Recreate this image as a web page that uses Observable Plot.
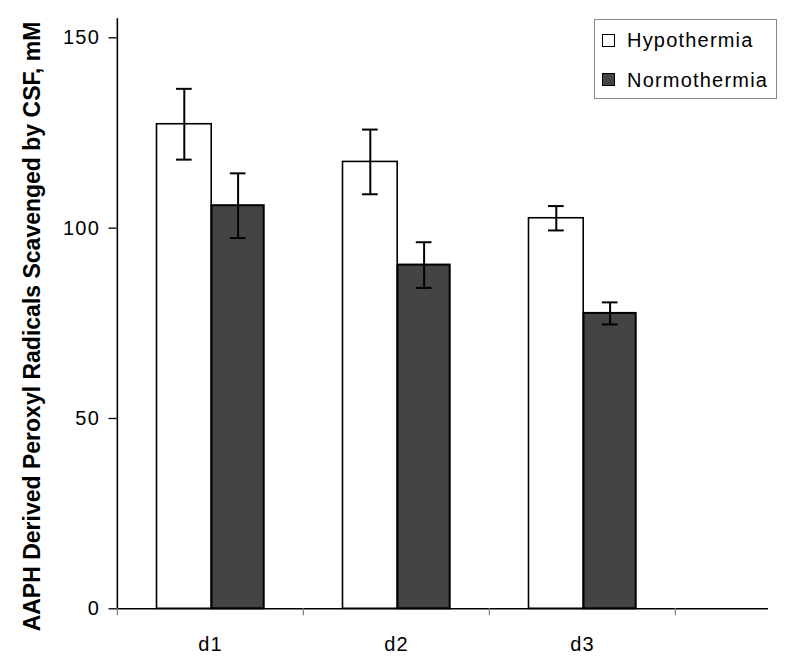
<!DOCTYPE html>
<html>
<head>
<meta charset="utf-8">
<script src="https://cdn.jsdelivr.net/npm/d3@7"></script>
<script src="https://cdn.jsdelivr.net/npm/@observablehq/plot@0.6"></script>
<style>
  html, body { margin: 0; padding: 0; background: #fff; }
  #wrap { position: relative; width: 800px; height: 671px; font-family: "Liberation Sans", Arial, sans-serif; }
  #wrap svg [aria-label$="tick label"] { letter-spacing: 1.2px; }
  .legend { position: absolute; left: 594px; top: 19px; width: 183px; height: 80px; box-sizing: border-box; border: 1px solid #8a8a8a; background: #fff; }
  .legend .sw { position: absolute; left: 7px; width: 13px; height: 13px; box-sizing: border-box; border: 1.5px solid #000; }
  .legend .lb { position: absolute; left: 32px; font-size: 20px; line-height: 20px; letter-spacing: 1.2px; color: #000; white-space: nowrap; }
</style>
</head>
<body>
<div id="wrap"></div>
<script>
// ---- data ----
const days = ["d1", "d2", "d3"];
const series = ["Hypothermia", "Normothermia"];
const hypoMean = [127.3, 117.4, 102.6];
const hypoErr = [9.3, 8.5, 3.2];
const normoMean = [105.9, 90.3, 77.6];
const normoErr = [8.5, 6.0, 2.9];
const yTicks = [0, 50, 100, 150];
const yTitle = "AAPH Derived Peroxyl Radicals Scavenged by CSF, mM";

const hypo = days.map((d, i) => ({day: d, value: hypoMean[i], lo: hypoMean[i] - hypoErr[i], hi: hypoMean[i] + hypoErr[i]}));
const normo = days.map((d, i) => ({day: d, value: normoMean[i], lo: normoMean[i] - normoErr[i], hi: normoMean[i] + normoErr[i]}));

const xDomain = days.concat([""]);
const xRange = [116.5, 861.7];
const bw = (xRange[1] - xRange[0]) / xDomain.length;
const yDomain = [0, 155];

const font = "'Liberation Sans', Arial, sans-serif";

const chart = Plot.plot({
  width: 800,
  height: 671,
  marginLeft: 116.5,
  marginRight: 32,
  marginTop: 18.3,
  marginBottom: 62.7,
  style: {fontFamily: font, background: "#fff", color: "#000"},
  x: {type: "band", domain: xDomain, range: xRange, paddingInner: 0, paddingOuter: 0},
  y: {domain: yDomain, range: [608.3, 18.3]},
  marks: [
    // bars
    Plot.barY(hypo, {x: "day", y: "value", fill: "#fff", stroke: "#000", strokeWidth: 1.6, insetLeft: 39.5, insetRight: 91.8}),
    Plot.barY(normo, {x: "day", y: "value", fill: "#444444", stroke: "#000", strokeWidth: 2, insetLeft: 94.5, insetRight: 39.3}),
    // error bars
    Plot.ruleX(hypo, {x: "day", y1: "lo", y2: "hi", dx: -26.2, stroke: "#000", strokeWidth: 2}),
    Plot.tickY(hypo, {x: "day", y: "hi", insetLeft: 59, insetRight: 111.3, stroke: "#000", strokeWidth: 2}),
    Plot.tickY(hypo, {x: "day", y: "lo", insetLeft: 59, insetRight: 111.3, stroke: "#000", strokeWidth: 2}),
    Plot.ruleX(normo, {x: "day", y1: "lo", y2: "hi", dx: 27.6, stroke: "#000", strokeWidth: 2}),
    Plot.tickY(normo, {x: "day", y: "hi", insetLeft: 112.8, insetRight: 57.5, stroke: "#000", strokeWidth: 2}),
    Plot.tickY(normo, {x: "day", y: "lo", insetLeft: 112.8, insetRight: 57.5, stroke: "#000", strokeWidth: 2}),
    // axes
    Plot.ruleY([0], {stroke: "#000", strokeWidth: 1.6}),
    Plot.ruleX([days[0]], {x: d => d, y1: yDomain[0], y2: yDomain[1], dx: -bw / 2, stroke: "#000", strokeWidth: 1.6}),
    Plot.axisY({ticks: yTicks, tickSize: 8, tickPadding: 9, fontSize: 20, label: null, stroke: "#000", strokeWidth: 1.3}),
    Plot.axisX({ticks: xDomain, tickSize: 7, tickFormat: () => "", dx: -bw / 2, stroke: "#888", strokeWidth: 1.3, label: null}),
    Plot.axisX({ticks: days, tickSize: 0, tickPadding: 27.5, fontSize: 20, label: null}),
    // y title
    Plot.text([yTitle], {frameAnchor: "left", textAnchor: "middle", rotate: -90, dx: -84.5, dy: 12.7, lineAnchor: "middle", fontSize: 23, fontWeight: "bold", fill: "#000"})
  ]
});

const wrap = document.getElementById("wrap");
wrap.appendChild(chart);

// legend
const legend = document.createElement("div");
legend.className = "legend";
const fills = ["#fff", "#444444"];
const swTop = [13.5, 53];
const lbTop = [10.1, 49.8];
series.forEach((s, i) => {
  const sw = document.createElement("div");
  sw.className = "sw";
  sw.style.top = swTop[i] + "px";
  sw.style.background = fills[i];
  legend.appendChild(sw);
  const lb = document.createElement("div");
  lb.className = "lb";
  lb.style.top = lbTop[i] + "px";
  lb.textContent = s;
  legend.appendChild(lb);
});
wrap.appendChild(legend);
</script>
</body>
</html>
